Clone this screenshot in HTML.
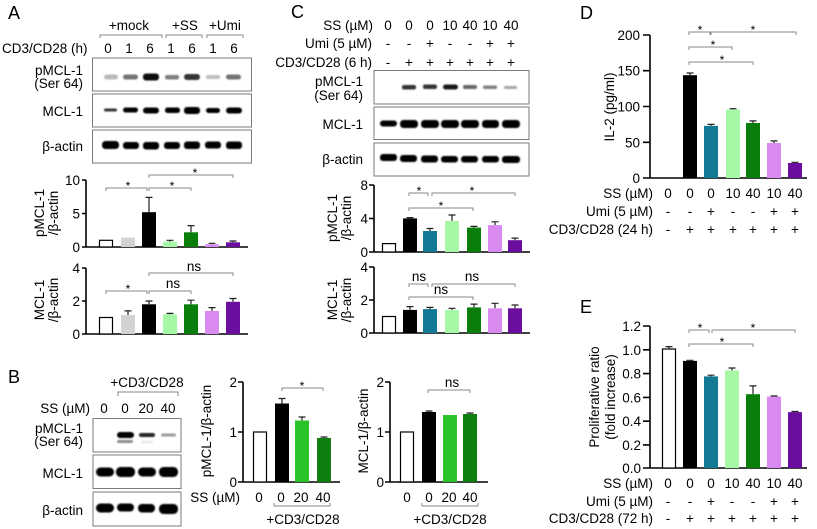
<!DOCTYPE html>
<html>
<head>
<meta charset="utf-8">
<style>
  html,body{margin:0;padding:0;background:#fff;}
  svg{display:block;}
  text{font-family:"Liberation Sans",Arial,sans-serif;font-size:13.5px;fill:#000;}
  .big{font-size:18px;}
  .ast{font-size:12px;}
  .ax{stroke:#000;stroke-width:1.6;fill:none;}
  .br{stroke:#8a8a8a;stroke-width:1;fill:none;}
  .eb{stroke:#222;stroke-width:1.2;fill:none;}
  .box{stroke:#7a7a7a;stroke-width:1;fill:#fff;}
  .r{text-anchor:end;}
  .m{text-anchor:middle;}
</style>
</head>
<body>
<svg width="817" height="529" viewBox="0 0 817 529" xmlns="http://www.w3.org/2000/svg">
<defs>
  <filter id="bl" x="-20%" y="-50%" width="140%" height="200%"><feGaussianBlur stdDeviation="0.9"/></filter>
</defs>
<rect width="817" height="529" fill="#fff"/>

<!-- ================= PANEL A ================= -->
<text x="8" y="19" class="big">A</text>
<text x="129" y="30" class="m">+mock</text>
<text x="185" y="30" class="m">+SS</text>
<text x="225" y="30" class="m">+Umi</text>
<path class="br" d="M100,38 V35 H162 V38 M166,38 V35 H202 V38 M207,38 V35 H243 V38"/>
<text x="2" y="53">CD3/CD28 (h)</text>
<text x="108" y="53" class="m">0</text>
<text x="129" y="53" class="m">1</text>
<text x="150" y="53" class="m">6</text>
<text x="171" y="53" class="m">1</text>
<text x="192" y="53" class="m">6</text>
<text x="213" y="53" class="m">1</text>
<text x="234" y="53" class="m">6</text>

<rect class="box" x="92.5" y="58" width="159" height="33"/>
<rect class="box" x="92.5" y="94" width="159" height="33"/>
<rect class="box" x="92.5" y="130" width="159" height="33"/>
<text x="83" y="75" class="r">pMCL-1</text>
<text x="83" y="88" class="r">(Ser 64)</text>
<text x="83" y="116" class="r">MCL-1</text>
<text x="83" y="151" class="r">β-actin</text>
<g filter="url(#bl)" fill="#000">
  <rect x="104" y="74.5" width="14" height="5" rx="2.5" opacity="0.28"/>
  <rect x="123" y="74.5" width="15" height="5" rx="2.5" opacity="0.55"/>
  <rect x="143" y="73.5" width="16" height="7" rx="3" opacity="0.95"/>
  <rect x="165" y="75" width="14" height="4.5" rx="2" opacity="0.5"/>
  <rect x="184" y="74" width="16" height="6" rx="3" opacity="0.8"/>
  <rect x="206" y="75" width="14" height="4" rx="2" opacity="0.25"/>
  <rect x="226" y="74.5" width="15" height="5" rx="2.5" opacity="0.55"/>

  <rect x="104" y="108.5" width="13" height="3" rx="1.5" opacity="0.8"/>
  <rect x="123" y="107.5" width="15" height="5" rx="2.5"/>
  <rect x="143" y="107.5" width="16" height="6" rx="3"/>
  <rect x="165" y="107.5" width="15" height="5.5" rx="2.5"/>
  <rect x="184" y="107" width="16" height="7" rx="3"/>
  <rect x="206" y="108" width="14" height="5" rx="2.5"/>
  <rect x="226" y="107.5" width="16" height="6" rx="3"/>

  <rect x="102" y="141" width="17" height="8" rx="3.5"/>
  <rect x="123" y="142" width="16" height="7" rx="3"/>
  <rect x="143" y="142" width="16" height="7.5" rx="3"/>
  <rect x="164" y="142" width="16" height="7" rx="3"/>
  <rect x="184" y="141.5" width="16" height="7.5" rx="3"/>
  <rect x="205" y="141.5" width="16" height="7" rx="3"/>
  <rect x="226" y="141.5" width="16" height="7.5" rx="3"/>
</g>

<!-- A chart 1 -->
<text transform="translate(44,213) rotate(-90)" class="m">pMCL-1</text>
<text transform="translate(58,213) rotate(-90)" class="m">/β-actin</text>
<path class="ax" d="M86,180 V247 H248 M82,180 H86 M82,213.5 H86 M82,247 H86"/>
<text x="80" y="185" class="r">10</text>
<text x="80" y="218.5" class="r">5</text>
<text x="80" y="252" class="r">0</text>
<rect x="99.5" y="240.3" width="13" height="6.7" fill="#fff" stroke="#000" stroke-width="1.2"/>
<rect x="121" y="237.6" width="14" height="9.4" fill="#d3d3d3"/>
<rect x="142" y="212.2" width="14" height="34.8" fill="#000"/>
<rect x="163" y="241.6" width="14" height="5.4" fill="#a6f7a6"/>
<rect x="184" y="232.3" width="14" height="14.7" fill="#0a7e0a"/>
<rect x="205" y="244.3" width="14" height="2.7" fill="#d98af0"/>
<rect x="226" y="242.3" width="14" height="4.7" fill="#6b0ea0"/>
<path class="eb" d="M149,212.2 V197.4 M145.5,197.4 H152.5 M170,241.6 V240.3 M166.5,240.3 H173.5 M191,232.3 V225.6 M187.5,225.6 H194.5 M212,244.3 V243.3 M208.5,243.3 H215.5 M233,242.3 V241 M229.5,241 H236.5"/>
<path class="br" d="M106,191 V188 H147 V191 M149,191 V188 H191 V191 M149,178 V175 H233 V178"/>
<text x="128" y="190" class="m ast">*</text>
<text x="172" y="190" class="m ast">*</text>
<text x="195" y="177" class="m ast">*</text>

<!-- A chart 2 -->
<text transform="translate(44,300) rotate(-90)" class="m">MCL-1</text>
<text transform="translate(58,300) rotate(-90)" class="m">/β-actin</text>
<path class="ax" d="M86,268 V334 H248 M82,268 H86 M82,301 H86 M82,334 H86"/>
<text x="80" y="273" class="r">4</text>
<text x="80" y="306" class="r">2</text>
<text x="80" y="339" class="r">0</text>
<rect x="99.5" y="317.5" width="13" height="16.5" fill="#fff" stroke="#000" stroke-width="1.2"/>
<rect x="121" y="315" width="14" height="19" fill="#d3d3d3"/>
<rect x="142" y="304.3" width="14" height="29.7" fill="#000"/>
<rect x="163" y="314.2" width="14" height="19.8" fill="#a6f7a6"/>
<rect x="184" y="304.3" width="14" height="29.7" fill="#0a7e0a"/>
<rect x="205" y="310.9" width="14" height="23.1" fill="#d98af0"/>
<rect x="226" y="301.8" width="14" height="32.2" fill="#6b0ea0"/>
<path class="eb" d="M128,315 V310.9 M124.5,310.9 H131.5 M149,304.3 V301 M145.5,301 H152.5 M170,314.2 V313.4 M166.5,313.4 H173.5 M191,304.3 V300.2 M187.5,300.2 H194.5 M212,310.9 V307.6 M208.5,307.6 H215.5 M233,301.8 V298.5 M229.5,298.5 H236.5"/>
<path class="br" d="M106,294 V291 H147 V294 M149,294 V291 H191 V294 M149,276 V273 H233 V276"/>
<text x="128" y="293" class="m ast">*</text>
<text x="173" y="288" class="m">ns</text>
<text x="194" y="271" class="m">ns</text>

<!-- ================= PANEL B ================= -->
<text x="8" y="383" class="big">B</text>
<text x="147" y="387" class="m">+CD3/CD28</text>
<path class="br" d="M118,396 V392 H178 V396"/>
<text x="90" y="413" class="r">SS (µM)</text>
<text x="104" y="413" class="m">0</text>
<text x="125" y="413" class="m">0</text>
<text x="146" y="413" class="m">20</text>
<text x="168" y="413" class="m">40</text>
<rect class="box" x="93" y="418.5" width="88" height="33.5"/>
<rect class="box" x="93" y="455" width="88" height="33.5"/>
<rect class="box" x="93" y="492" width="88" height="34"/>
<text x="83" y="433" class="r">pMCL-1</text>
<text x="83" y="446" class="r">(Ser 64)</text>
<text x="83" y="478" class="r">MCL-1</text>
<text x="83" y="515" class="r">β-actin</text>
<g filter="url(#bl)" fill="#000">
  <rect x="117" y="432" width="17" height="6" rx="3"/>
  <rect x="117" y="440" width="16" height="3" rx="1.5" opacity="0.45"/>
  <rect x="139" y="433" width="16" height="4" rx="2" opacity="0.85"/>
  <rect x="141" y="441" width="12" height="2" rx="1" opacity="0.1"/>
  <rect x="161" y="433.5" width="15" height="3" rx="1.5" opacity="0.4"/>

  <rect x="96" y="467.5" width="18" height="9" rx="4.5"/>
  <rect x="116" y="467" width="19" height="10" rx="4.5"/>
  <rect x="138" y="467.5" width="18" height="9" rx="4.5"/>
  <rect x="159" y="467" width="19" height="10" rx="4.5"/>

  <rect x="96" y="503.5" width="18" height="9" rx="4.5"/>
  <rect x="117" y="503.5" width="17" height="8" rx="4"/>
  <rect x="138" y="504" width="17" height="8.5" rx="4"/>
  <rect x="159" y="504" width="19" height="10" rx="4.5"/>
</g>

<!-- B chart 1 -->
<text transform="translate(211,431) rotate(-90)" class="m">pMCL-1/β-actin</text>
<path class="ax" d="M243,382 V482 H340 M238,382 H243 M238,432 H243 M238,482 H243"/>
<text x="237" y="387" class="r">2</text>
<text x="237" y="437" class="r">1</text>
<text x="237" y="487" class="r">0</text>
<rect x="253.5" y="432" width="13" height="50" fill="#fff" stroke="#000" stroke-width="1.2"/>
<rect x="275" y="403.5" width="14" height="78.5" fill="#000"/>
<rect x="295" y="420.5" width="14" height="61.5" fill="#2ac42a"/>
<rect x="317" y="438" width="14" height="44" fill="#0f7d0f"/>
<path class="eb" d="M282,403.5 V398.5 M278.5,398.5 H285.5 M302,420.5 V417 M298.5,417 H305.5 M324,438 V437 M320.5,437 H327.5"/>
<path class="br" d="M282,391 V388 H323 V391"/>
<text x="302" y="390" class="m ast">*</text>
<text x="240" y="502" class="r">SS (µM)</text>
<text x="259" y="502" class="m">0</text>
<text x="281" y="502" class="m">0</text>
<text x="301" y="502" class="m">20</text>
<text x="323" y="502" class="m">40</text>
<path class="br" d="M274,503 V506 H330 V503"/>
<text x="303" y="524" class="m">+CD3/CD28</text>

<!-- B chart 2 -->
<text transform="translate(368,431) rotate(-90)" class="m">MCL-1/β-actin</text>
<path class="ax" d="M390,382 V482 H488 M385,382 H390 M385,432 H390 M385,482 H390"/>
<text x="384" y="387" class="r">2</text>
<text x="384" y="437" class="r">1</text>
<text x="384" y="487" class="r">0</text>
<rect x="400.5" y="432" width="13" height="50" fill="#fff" stroke="#000" stroke-width="1.2"/>
<rect x="422" y="412" width="14" height="70" fill="#000"/>
<rect x="443" y="415" width="14" height="67" fill="#2ac42a"/>
<rect x="463" y="414" width="14" height="68" fill="#0f7d0f"/>
<path class="eb" d="M429,412 V411 M425.5,411 H432.5 M470,414 V413 M466.5,413 H473.5"/>
<path class="br" d="M428,393 V390 H470 V393"/>
<text x="452" y="387" class="m">ns</text>
<text x="407" y="502" class="m">0</text>
<text x="429" y="502" class="m">0</text>
<text x="449" y="502" class="m">20</text>
<text x="470" y="502" class="m">40</text>
<path class="br" d="M422,503 V506 H478 V503"/>
<text x="450" y="524" class="m">+CD3/CD28</text>

<!-- ================= PANEL C ================= -->
<text x="291" y="18" class="big">C</text>
<text x="373" y="30" class="r">SS (µM)</text>
<text x="372" y="48" class="r">Umi (5 µM)</text>
<text x="372" y="67" class="r">CD3/CD28 (6 h)</text>
<text x="388" y="30" class="m">0</text><text x="409" y="30" class="m">0</text><text x="430" y="30" class="m">0</text>
<text x="450" y="30" class="m">10</text><text x="470" y="30" class="m">40</text><text x="490" y="30" class="m">10</text><text x="511" y="30" class="m">40</text>
<text x="388" y="48" class="m">-</text><text x="409" y="48" class="m">-</text><text x="430" y="48" class="m">+</text>
<text x="450" y="48" class="m">-</text><text x="470" y="48" class="m">-</text><text x="490" y="48" class="m">+</text><text x="511" y="48" class="m">+</text>
<text x="388" y="67" class="m">-</text><text x="409" y="67" class="m">+</text><text x="430" y="67" class="m">+</text>
<text x="450" y="67" class="m">+</text><text x="470" y="67" class="m">+</text><text x="490" y="67" class="m">+</text><text x="511" y="67" class="m">+</text>
<rect class="box" x="374" y="70.5" width="155" height="33.5"/>
<rect class="box" x="374" y="107" width="155" height="32.5"/>
<rect class="box" x="374" y="143" width="155" height="33"/>
<text x="363" y="86" class="r">pMCL-1</text>
<text x="363" y="100" class="r">(Ser 64)</text>
<text x="363" y="129" class="r">MCL-1</text>
<text x="363" y="164" class="r">β-actin</text>
<g filter="url(#bl)" fill="#000">
  <rect x="402" y="85" width="14" height="4.5" rx="2" opacity="0.8"/>
  <rect x="423" y="84.5" width="14" height="4.5" rx="2" opacity="0.8"/>
  <rect x="443" y="84.5" width="15" height="5" rx="2.5" opacity="0.9"/>
  <rect x="463" y="85" width="14" height="4" rx="2" opacity="0.6"/>
  <rect x="483" y="85.5" width="14" height="3.5" rx="1.5" opacity="0.5"/>
  <rect x="504" y="86" width="13" height="3" rx="1.5" opacity="0.35"/>

  <rect x="380" y="120.5" width="17" height="6" rx="3"/>
  <rect x="400" y="120" width="18" height="8" rx="3.5"/>
  <rect x="421" y="120" width="18" height="8" rx="3.5"/>
  <rect x="441" y="120" width="18" height="8" rx="3.5"/>
  <rect x="461" y="120" width="18" height="8" rx="3.5"/>
  <rect x="482" y="120" width="17" height="8" rx="3.5"/>
  <rect x="502" y="120" width="18" height="8" rx="3.5"/>

  <rect x="380" y="154" width="17" height="7" rx="3"/>
  <rect x="400" y="155" width="17" height="7" rx="3"/>
  <rect x="421" y="155.5" width="17" height="7" rx="3"/>
  <rect x="441" y="156" width="17" height="6.5" rx="3"/>
  <rect x="461" y="156" width="17" height="6.5" rx="3"/>
  <rect x="482" y="156" width="17" height="6.5" rx="3"/>
  <rect x="502" y="156" width="18" height="7" rx="3"/>
</g>

<!-- C chart 1 -->
<text transform="translate(337,218) rotate(-90)" class="m">pMCL-1</text>
<text transform="translate(351,218) rotate(-90)" class="m">/β-actin</text>
<path class="ax" d="M374,185 V252 H530 M369,185 H374 M369,218.5 H374 M369,252 H374"/>
<text x="368" y="190" class="r">8</text>
<text x="368" y="223.5" class="r">4</text>
<text x="368" y="257" class="r">0</text>
<rect x="382.5" y="243.6" width="13" height="8.4" fill="#fff" stroke="#000" stroke-width="1.2"/>
<rect x="403" y="218.4" width="14" height="33.6" fill="#000"/>
<rect x="423" y="231" width="14" height="21" fill="#137a96"/>
<rect x="445" y="220.9" width="14" height="31.1" fill="#a6f7a6"/>
<rect x="467" y="227.6" width="14" height="24.4" fill="#0a7e0a"/>
<rect x="488" y="225.1" width="14" height="26.9" fill="#d98af0"/>
<rect x="508" y="240.2" width="14" height="11.8" fill="#6b0ea0"/>
<path class="eb" d="M410,218.4 V217.6 M406.5,217.6 H413.5 M430,231 V228.5 M426.5,228.5 H433.5 M452,220.9 V215 M448.5,215 H455.5 M474,227.6 V226.4 M470.5,226.4 H477.5 M495,225.1 V221.8 M491.5,221.8 H498.5 M515,240.2 V238.1 M511.5,238.1 H518.5"/>
<path class="br" d="M409,196 V193 H428 V196 M432,196 V193 H515 V196 M409,211 V208 H473 V211"/>
<text x="419" y="195" class="m ast">*</text>
<text x="472" y="195" class="m ast">*</text>
<text x="441" y="210" class="m ast">*</text>

<!-- C chart 2 -->
<text transform="translate(337,300) rotate(-90)" class="m">MCL-1</text>
<text transform="translate(351,300) rotate(-90)" class="m">/β-actin</text>
<path class="ax" d="M374,267 V333 H530 M369,267 H374 M369,300 H374 M369,333 H374"/>
<text x="368" y="272" class="r">4</text>
<text x="368" y="305" class="r">2</text>
<text x="368" y="338" class="r">0</text>
<rect x="382.5" y="316.5" width="13" height="16.5" fill="#fff" stroke="#000" stroke-width="1.2"/>
<rect x="403" y="309.9" width="14" height="23.1" fill="#000"/>
<rect x="423" y="309.1" width="14" height="23.9" fill="#137a96"/>
<rect x="445" y="309.9" width="14" height="23.1" fill="#a6f7a6"/>
<rect x="467" y="307.4" width="14" height="25.6" fill="#0a7e0a"/>
<rect x="488" y="308.3" width="14" height="24.7" fill="#d98af0"/>
<rect x="508" y="308.3" width="14" height="24.7" fill="#6b0ea0"/>
<path class="eb" d="M410,309.9 V306.6 M406.5,306.6 H413.5 M430,309.1 V307.4 M426.5,307.4 H433.5 M452,309.9 V308.3 M448.5,308.3 H455.5 M474,307.4 V304.1 M470.5,304.1 H477.5 M495,308.3 V303.3 M491.5,303.3 H498.5 M515,308.3 V305 M511.5,305 H518.5"/>
<path class="br" d="M409,287 V284 H428 V287 M432,287 V284 H515 V287 M409,300 V297 H473 V300"/>
<text x="419" y="281" class="m">ns</text>
<text x="472" y="281" class="m">ns</text>
<text x="441" y="294" class="m">ns</text>

<!-- ================= PANEL D ================= -->
<text x="580" y="19" class="big">D</text>
<text transform="translate(614,107) rotate(-90)" class="m">IL-2 (pg/ml)</text>
<path class="ax" d="M650,35 V178 H807 M643,35 H650 M643,70.7 H650 M643,106.5 H650 M643,142.3 H650 M643,178 H650"/>
<text x="640" y="40" class="r">200</text>
<text x="640" y="75.7" class="r">150</text>
<text x="640" y="111.5" class="r">100</text>
<text x="640" y="147.3" class="r">50</text>
<text x="640" y="183" class="r">0</text>
<rect x="683" y="75.2" width="14" height="102.8" fill="#000"/>
<rect x="704" y="125.9" width="14" height="52.1" fill="#137a96"/>
<rect x="726" y="109.5" width="14" height="68.5" fill="#a6f7a6"/>
<rect x="746" y="123" width="14" height="55" fill="#0a7e0a"/>
<rect x="767" y="143" width="14" height="35" fill="#d98af0"/>
<rect x="788" y="163" width="14" height="15" fill="#6b0ea0"/>
<path class="eb" d="M690,75.2 V73 M686.5,73 H693.5 M711,125.9 V124.4 M707.5,124.4 H714.5 M733,109.5 V108.7 M729.5,108.7 H736.5 M753,123 V120.9 M749.5,120.9 H756.5 M774,143 V140.9 M770.5,140.9 H777.5 M795,163 V162.3 M791.5,162.3 H798.5"/>
<path class="br" d="M689,35 V32 H710 V35 M711,35 V32 H796 V35 M689,50 V47 H732 V50 M689,65 V62 H753 V65"/>
<text x="700" y="34" class="m ast">*</text>
<text x="753" y="34" class="m ast">*</text>
<text x="713" y="49" class="m ast">*</text>
<text x="722" y="64" class="m ast">*</text>
<text x="653" y="198" class="r">SS (µM)</text>
<text x="653" y="216" class="r">Umi (5 µM)</text>
<text x="653" y="234" class="r">CD3/CD28 (24 h)</text>
<text x="668" y="198" class="m">0</text><text x="690" y="198" class="m">0</text><text x="711" y="198" class="m">0</text>
<text x="733" y="198" class="m">10</text><text x="753" y="198" class="m">40</text><text x="774" y="198" class="m">10</text><text x="795" y="198" class="m">40</text>
<text x="668" y="216" class="m">-</text><text x="690" y="216" class="m">-</text><text x="711" y="216" class="m">+</text>
<text x="733" y="216" class="m">-</text><text x="753" y="216" class="m">-</text><text x="774" y="216" class="m">+</text><text x="795" y="216" class="m">+</text>
<text x="668" y="234" class="m">-</text><text x="690" y="234" class="m">+</text><text x="711" y="234" class="m">+</text>
<text x="733" y="234" class="m">+</text><text x="753" y="234" class="m">+</text><text x="774" y="234" class="m">+</text><text x="795" y="234" class="m">+</text>

<!-- ================= PANEL E ================= -->
<text x="580" y="313" class="big">E</text>
<text transform="translate(599,397) rotate(-90)" class="m">Proliferative ratio</text>
<text transform="translate(615,397) rotate(-90)" class="m">(fold increase)</text>
<path class="ax" d="M650,326 V468 H807 M643,326 H650 M643,349.8 H650 M643,373.6 H650 M643,397.4 H650 M643,421.2 H650 M643,444.9 H650 M643,468 H650"/>
<text x="641" y="331" class="r">1.2</text>
<text x="641" y="354.8" class="r">1.0</text>
<text x="641" y="378.6" class="r">0.8</text>
<text x="641" y="402.4" class="r">0.6</text>
<text x="641" y="426.2" class="r">0.4</text>
<text x="641" y="449.9" class="r">0.2</text>
<text x="641" y="473" class="r">0.0</text>
<rect x="662.5" y="349" width="13" height="119" fill="#fff" stroke="#000" stroke-width="1.2"/>
<rect x="683" y="360.9" width="14" height="107.1" fill="#000"/>
<rect x="704" y="376.4" width="14" height="91.6" fill="#137a96"/>
<rect x="725" y="370.4" width="14" height="97.6" fill="#a6f7a6"/>
<rect x="746" y="394.2" width="14" height="73.8" fill="#0a7e0a"/>
<rect x="767" y="396.6" width="14" height="71.4" fill="#d98af0"/>
<rect x="788" y="412.1" width="14" height="55.9" fill="#6b0ea0"/>
<path class="eb" d="M669,349 V346.6 M665.5,346.6 H672.5 M690,360.9 V360.3 M686.5,360.3 H693.5 M711,376.4 V375.2 M707.5,375.2 H714.5 M732,370.4 V368 M728.5,368 H735.5 M753,394.2 V385.9 M749.5,385.9 H756.5 M774,396.6 V396 M770.5,396 H777.5 M795,412.1 V411.5 M791.5,411.5 H798.5"/>
<path class="br" d="M689,333 V330 H709 V333 M712,333 V330 H795 V333 M689,347 V344 H753 V347"/>
<text x="700" y="332" class="m ast">*</text>
<text x="753" y="332" class="m ast">*</text>
<text x="722" y="346" class="m ast">*</text>
<text x="653" y="488" class="r">SS (µM)</text>
<text x="653" y="506" class="r">Umi (5 µM)</text>
<text x="653" y="523" class="r">CD3/CD28 (72 h)</text>
<text x="668" y="488" class="m">0</text><text x="690" y="488" class="m">0</text><text x="711" y="488" class="m">0</text>
<text x="732" y="488" class="m">10</text><text x="753" y="488" class="m">40</text><text x="774" y="488" class="m">10</text><text x="795" y="488" class="m">40</text>
<text x="668" y="506" class="m">-</text><text x="690" y="506" class="m">-</text><text x="711" y="506" class="m">+</text>
<text x="732" y="506" class="m">-</text><text x="753" y="506" class="m">-</text><text x="774" y="506" class="m">+</text><text x="795" y="506" class="m">+</text>
<text x="668" y="523" class="m">-</text><text x="690" y="523" class="m">+</text><text x="711" y="523" class="m">+</text>
<text x="732" y="523" class="m">+</text><text x="753" y="523" class="m">+</text><text x="774" y="523" class="m">+</text><text x="795" y="523" class="m">+</text>
</svg>
</body>
</html>
